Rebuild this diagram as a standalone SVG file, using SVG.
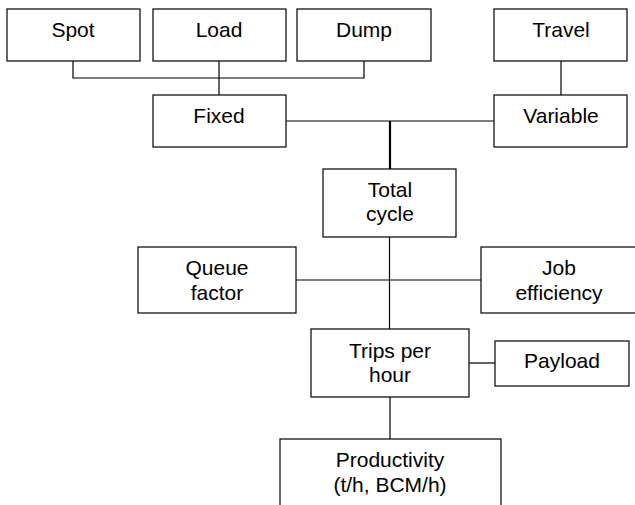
<svg xmlns="http://www.w3.org/2000/svg" width="635" height="505" viewBox="0 0 635 505">
<style>
.box{fill:#fff;stroke:#000;stroke-width:1.2}
.ln{fill:none;stroke:#000;stroke-width:1.2}
.thick{fill:none;stroke:#000;stroke-width:2.2}
text{font-family:"Liberation Sans",Arial,sans-serif;font-size:21px;fill:#000;text-anchor:middle}
</style>
<rect width="635" height="505" fill="#fff"/>
<g id="connectors">
<polyline class="ln" points="73,61 73,78 364,78 364,61"/>
<line class="ln" x1="219" y1="61" x2="219" y2="95"/>
<line class="ln" x1="561" y1="61" x2="561" y2="95"/>
<line class="ln" x1="286" y1="121" x2="494" y2="121"/>
<line class="thick" x1="390" y1="121" x2="390" y2="169"/>
<line class="ln" x1="389.5" y1="237" x2="389.5" y2="329"/>
<line class="ln" x1="296" y1="280" x2="481" y2="280"/>
<line class="ln" x1="469" y1="363" x2="495" y2="363"/>
<line class="ln" x1="390" y1="397" x2="390" y2="439"/>
</g>
<g id="spot"><rect class="box" x="7" y="9" width="133" height="52"/><text x="73" y="37">Spot</text></g>
<g id="load"><rect class="box" x="153" y="9" width="133" height="52"/><text x="219" y="37">Load</text></g>
<g id="dump"><rect class="box" x="297" y="9" width="134" height="52"/><text x="364" y="37">Dump</text></g>
<g id="travel"><rect class="box" x="494" y="9" width="133" height="52"/><text x="561" y="37">Travel</text></g>
<g id="fixed"><rect class="box" x="153" y="95" width="133" height="52"/><text x="219" y="123">Fixed</text></g>
<g id="variable"><rect class="box" x="494" y="95" width="133" height="52"/><text x="561" y="123">Variable</text></g>
<g id="total-cycle"><rect class="box" x="323" y="169" width="133" height="68"/><text x="390" y="197">Total</text><text x="390" y="221">cycle</text></g>
<g id="queue-factor"><rect class="box" x="138" y="247" width="158" height="66"/><text x="217" y="275">Queue</text><text x="217" y="300">factor</text></g>
<g id="job-efficiency"><rect class="box" x="481" y="247" width="160" height="66"/><text x="559" y="275">Job</text><text x="559" y="300">efficiency</text></g>
<g id="trips-per-hour"><rect class="box" x="311" y="329" width="158" height="68"/><text x="390" y="358">Trips per</text><text x="390" y="382">hour</text></g>
<g id="payload"><rect class="box" x="495" y="341" width="134" height="45"/><text x="562" y="368">Payload</text></g>
<g id="productivity"><rect class="box" x="280" y="439" width="221" height="80"/><text x="390" y="467">Productivity</text><text x="390" y="492">(t/h, BCM/h)</text></g>
</svg>
